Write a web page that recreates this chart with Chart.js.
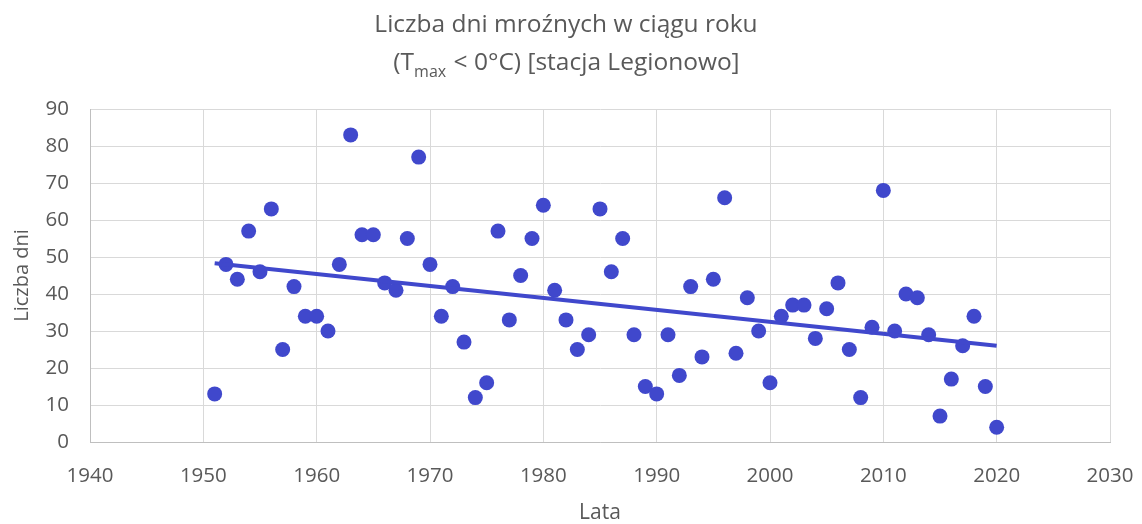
<!DOCTYPE html>
<html>
<head>
<meta charset="utf-8">
<script src="https://cdn.jsdelivr.net/npm/chart.js@4.4.1/dist/chart.umd.min.js"></script>
<style>
  html, body { margin: 0; padding: 0; background: #fff; }
  #wrap { width: 1142px; height: 524px; }
</style>
</head>
<body>
<div id="wrap"><canvas id="frostChart"></canvas></div>
<script>
const years = [
    1951, 1952, 1953, 1954, 1955, 1956, 1957, 1958, 1959, 1960,
    1961, 1962, 1963, 1964, 1965, 1966, 1967, 1968, 1969, 1970,
    1971, 1972, 1973, 1974, 1975, 1976, 1977, 1978, 1979, 1980,
    1981, 1982, 1983, 1984, 1985, 1986, 1987, 1988, 1989, 1990,
    1991, 1992, 1993, 1994, 1995, 1996, 1997, 1998, 1999, 2000,
    2001, 2002, 2003, 2004, 2005, 2006, 2007, 2008, 2009, 2010,
    2011, 2012, 2013, 2014, 2015, 2016, 2017, 2018, 2019, 2020
];
const frostDays = [
    13, 48, 44, 57, 46, 63, 25, 42, 34, 34,
    30, 48, 83, 56, 56, 43, 41, 55, 77, 48,
    34, 42, 27, 12, 16, 57, 33, 45, 55, 64,
    41, 33, 25, 29, 63, 46, 55, 29, 15, 13,
    29, 18, 42, 23, 44, 66, 24, 39, 30, 16,
    34, 37, 37, 28, 36, 43, 25, 12, 31, 68,
    30, 40, 39, 29, 7, 17, 26, 34, 15, 4
];

// trend line ends
const trendYears = [1951, 2020];
const trendValues = [48.3, 26.0];

const xTickValues = [1940, 1950, 1960, 1970, 1980, 1990, 2000, 2010, 2020, 2030];
const yTickValues = [0, 10, 20, 30, 40, 50, 60, 70, 80, 90];

const titleLine1 = 'Liczba dni mroźnych w ciągu roku';
const titleLine2 = ['(T', 'max', ' < 0°C) [stacja Legionowo]'];
const xTitle = 'Lata';
const yTitle = 'Liczba dni';

const fontFamily = '"Open Sans", sans-serif';
const textColor = '#595959';
const markColor = '#4048CC';

const titlePlugin = {
    id: 'twoLineTitle',
    afterDraw(chart) {
        const ctx = chart.ctx;
        const cx = 566;
        const big = `24.5px ${fontFamily}`;
        const small = `16px ${fontFamily}`;
        ctx.save();
        ctx.fillStyle = textColor;
        ctx.textBaseline = 'alphabetic';
        ctx.textAlign = 'left';

        ctx.font = big;
        const w = ctx.measureText(titleLine1).width;
        ctx.fillText(titleLine1, cx - w / 2, 32);

        // second line, "max" as subscript
        const w0 = ctx.measureText(titleLine2[0]).width;
        const w2 = ctx.measureText(titleLine2[2]).width;
        ctx.font = small;
        const w1 = ctx.measureText(titleLine2[1]).width;
        let x = cx - (w0 + w1 + w2) / 2;
        ctx.font = big;
        ctx.fillText(titleLine2[0], x, 70);
        x += w0;
        ctx.font = small;
        ctx.fillText(titleLine2[1], x, 77);
        x += w1 + 1;
        ctx.font = big;
        ctx.fillText(titleLine2[2], x, 70);
        ctx.restore();
    }
};

const ctx = document.getElementById('frostChart').getContext('2d');
new Chart(ctx, {
    type: 'scatter',
    data: {
        datasets: [
            {
                label: 'Liczba dni mroźnych',
                data: years.map((y, i) => ({ x: y, y: frostDays[i] })),
                backgroundColor: markColor,
                borderWidth: 0,
                pointRadius: 7.5,
                pointHoverRadius: 7.5,
                order: 1
            },
            {
                label: 'Trend',
                type: 'line',
                data: trendYears.map((y, i) => ({ x: y, y: trendValues[i] })),
                borderColor: markColor,
                borderWidth: 4,
                pointRadius: 0,
                fill: false,
                order: 0
            }
        ]
    },
    options: {
        animation: false,
        responsive: true,
        maintainAspectRatio: false,
        layout: {
            padding: { top: 109, right: 32, bottom: 0, left: 0 }
        },
        scales: {
            x: {
                type: 'linear',
                min: 1940,
                max: 2030,
                afterBuildTicks: s => { s.ticks = xTickValues.map(v => ({ value: v })); },
                afterFit: s => {
                    s.height = 82;
                    s.paddingLeft = 0;
                    s.paddingRight = 0;
                },
                ticks: {
                    padding: 22,
                    color: textColor,
                    font: { family: fontFamily, size: 20.5 },
                    callback: v => String(v)
                },
                grid: { color: '#d9d9d9', lineWidth: 1, drawTicks: false },
                border: { color: '#bfbfbf', width: 1 },
                title: {
                    display: true,
                    text: xTitle,
                    color: textColor,
                    font: { family: fontFamily, size: 21, lineHeight: 1.05 },
                    padding: { top: 0, bottom: 0 }
                }
            },
            y: {
                min: 0,
                max: 90,
                afterBuildTicks: s => { s.ticks = yTickValues.map(v => ({ value: v })); },
                afterFit: s => {
                    s.width = 90;
                    s.paddingTop = 0;
                    s.paddingBottom = 0;
                },
                ticks: {
                    padding: 21,
                    color: textColor,
                    font: { family: fontFamily, size: 20.5 },
                    callback: v => String(v)
                },
                grid: { color: '#d9d9d9', lineWidth: 1, drawTicks: false },
                border: { color: '#bfbfbf', width: 1 },
                title: {
                    display: true,
                    text: yTitle,
                    color: textColor,
                    font: { family: fontFamily, size: 20 },
                    padding: { top: 10, bottom: 0 }
                }
            }
        },
        plugins: {
            legend: { display: false },
            tooltip: { enabled: false },
            title: { display: false }
        }
    },
    plugins: [titlePlugin]
});
</script>
</body>
</html>
